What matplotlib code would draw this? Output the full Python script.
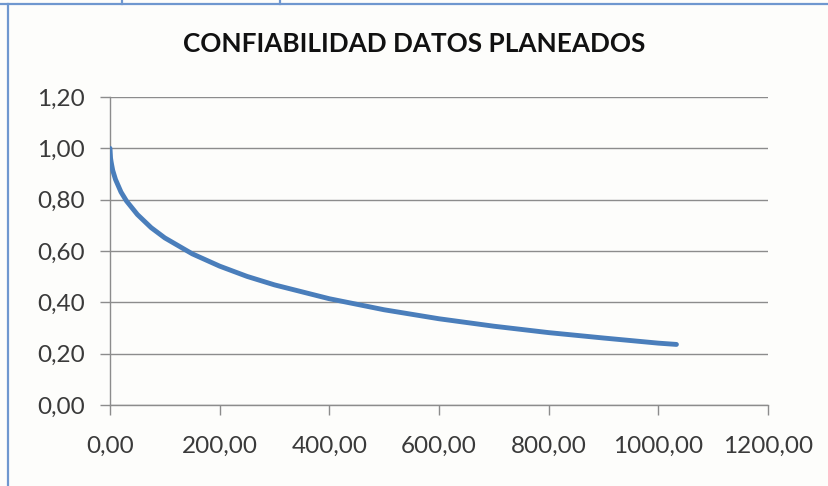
import matplotlib
matplotlib.use("Agg")
import matplotlib.pyplot as plt
from matplotlib.ticker import FuncFormatter, MultipleLocator
from matplotlib.lines import Line2D

# Reliability over operating time (planned data)
tiempo = [0, 1, 2, 3, 5, 10, 20, 30, 50, 75, 100, 150, 200, 250, 300,
          400, 500, 600, 700, 800, 900, 1000, 1033]
confiabilidad = [1.000, 0.962, 0.948, 0.936, 0.914, 0.879, 0.830, 0.795,
                 0.742, 0.691, 0.651, 0.589, 0.541, 0.501, 0.468, 0.414,
                 0.371, 0.336, 0.307, 0.282, 0.261, 0.241, 0.236]

titulo = "CONFIABILIDAD DATOS PLANEADOS"
x_max, x_paso = 1200, 200
y_max, y_paso = 1.20, 0.20

plt.rcParams["font.family"] = ["Lato", "DejaVu Sans"]

W, H = 829, 486
fig = plt.figure(figsize=(W / 100, H / 100), dpi=100)
fig.patch.set_facecolor("#fdfdfb")

# frame lines of the chart object and the edge of the cell above
frame = dict(color="#6f97cf", lw=1.6, transform=fig.transFigure)
fig.add_artist(Line2D([8 / W, 8 / W], [0, 1 - 4 / H], **frame))
fig.add_artist(Line2D([0, 1], [1 - 4 / H, 1 - 4 / H], **frame))
for px in (122, 280):
    fig.add_artist(Line2D([px / W, px / W], [1 - 4 / H, 1], **frame))

ax = fig.add_axes([110 / W, 1 - 405 / H, 658 / W, 308 / H])
ax.set_facecolor("#fdfdfb")

ax.plot(tiempo, confiabilidad, color="#4a7ebb", lw=3.5,
        solid_capstyle="round", solid_joinstyle="round", zorder=3)

ax.set_xlim(0, x_max)
ax.set_ylim(0, y_max)
ax.xaxis.set_major_locator(MultipleLocator(x_paso))
ax.yaxis.set_major_locator(MultipleLocator(y_paso))
fmt = FuncFormatter(lambda v, p: f"{v:.2f}".replace(".", ","))
ax.xaxis.set_major_formatter(fmt)
ax.yaxis.set_major_formatter(fmt)

ax.grid(axis="y", color="#8c8c8c", lw=1.0)
ax.set_axisbelow(True)
for s in ("top", "right"):
    ax.spines[s].set_visible(False)
for s in ("left", "bottom"):
    ax.spines[s].set_color("#8c8c8c")
    ax.spines[s].set_linewidth(1.0)

ax.tick_params(axis="both", colors="#8c8c8c", labelcolor="#3a3a3a",
               labelsize=17.5, length=7, width=1.0, direction="out")
ax.tick_params(axis="x", pad=15)
ax.tick_params(axis="y", pad=11)

fig.text(414 / W, 1 - 44 / H, titulo, ha="center", va="center",
         fontsize=18.8, fontweight="bold", color="#111111")

fig.savefig("out.png", dpi=100, facecolor=fig.get_facecolor())
